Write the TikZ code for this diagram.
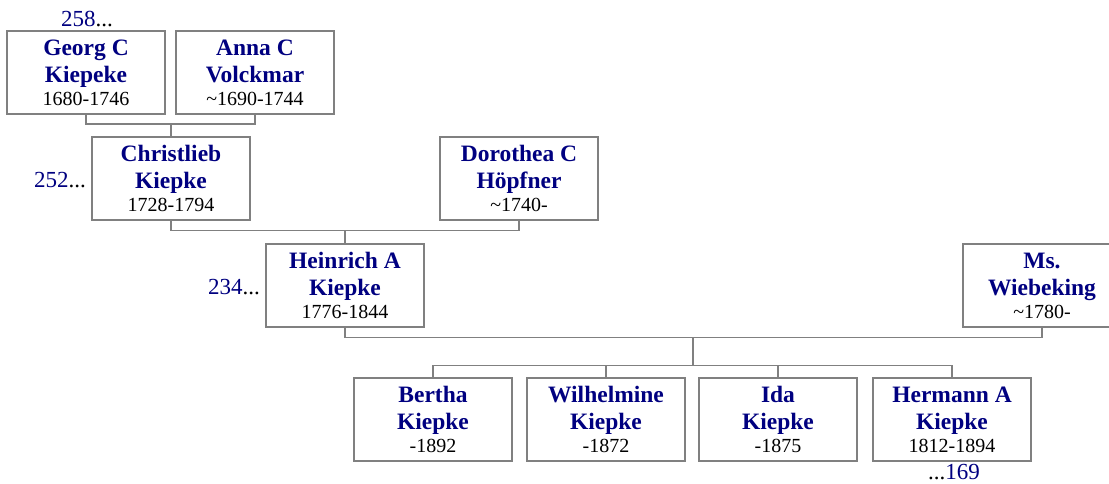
\documentclass[tikz,border=0pt]{standalone}
\usepackage{fontspec}
\setmainfont{Liberation Serif}
\definecolor{navy}{RGB}{0,0,128}
\definecolor{lgray}{RGB}{128,128,128}
\tikzset{
  pbox/.style={draw=lgray, line width=1.3pt, fill=white, minimum width=158pt, minimum height=83pt, inner sep=0pt},
  nm/.style={anchor=base, inner sep=0pt, text=navy, font=\fontsize{23.5pt}{26pt}\selectfont\bfseries},
  dt/.style={anchor=base, inner sep=0pt, text=black, font=\fontsize{20pt}{22pt}\selectfont},
  num/.style={anchor=base, inner sep=0pt, font=\fontsize{23pt}{25pt}\selectfont},
  conn/.style={draw=lgray, line width=1.3pt}
}
\newcommand\person[6]{%
  \node[pbox] (#1) at (#2,#3) {};
  \node[nm] (#1-a) at (#2,{#3-17.5}) {#4};
  \node[nm] (#1-b) at (#2,{#3+9.5}) {#5};
  \node[dt] (#1-c) at (#2,{#3+33}) {#6};
}
\begin{document}
\begin{tikzpicture}[x=1pt,y=-1pt]
\useasboundingbox (0,0) rectangle (1109,483);
\person{georg}{86}{72.5}{Georg C}{Kiepeke}{1680-1746}
\person{anna}{255}{72.5}{Anna C}{Volckmar}{\textasciitilde1690-1744}
\person{christlieb}{171}{178.5}{Christlieb}{Kiepke}{1728-1794}
\person{dorothea}{519}{178.5}{Dorothea C}{Höpfner}{\textasciitilde1740-}
\person{heinrich}{345}{285.5}{Heinrich A}{Kiepke}{1776-1844}
\person{wiebeking}{1042}{285.5}{Ms.}{Wiebeking}{\textasciitilde1780-}
\person{bertha}{433}{419.5}{Bertha}{Kiepke}{-1892}
\person{wilhelmine}{606}{419.5}{Wilhelmine}{Kiepke}{-1872}
\person{ida}{778}{419.5}{Ida}{Kiepke}{-1875}
\person{hermann}{952}{419.5}{Hermann A}{Kiepke}{1812-1894}
% connectors
\coordinate (j1) at (171,124);
\coordinate (j2) at (345,230.5);
\coordinate (j3) at (693,337.5);
\coordinate (j4) at (693,365.5);
\draw[conn] (georg.south) |- (j1) -| (anna.south);
\draw[conn] (j1) -- (christlieb.north);
\draw[conn] (christlieb.south) |- (j2) -| (dorothea.south);
\draw[conn] (j2) -- (heinrich.north);
\draw[conn] (heinrich.south) |- (j3) -| (wiebeking.south);
\draw[conn] (j3) -- (j4);
\draw[conn] (bertha.north) |- (j4) -| (hermann.north);
\draw[conn] (wilhelmine.north) -- (wilhelmine.north |- j4);
\draw[conn] (ida.north) -- (ida.north |- j4);
% numbers
\node[num, anchor=base west] (n258) at (61,26) {\textcolor{navy}{258}...};
\node[num, anchor=base east] (n252) at (86,187) {\textcolor{navy}{252}...};
\node[num, anchor=base east] (n234) at (260,294) {\textcolor{navy}{234}...};
\node[num, anchor=base east] (n169) at (980,479) {...\textcolor{navy}{169}};
\end{tikzpicture}
\end{document}
